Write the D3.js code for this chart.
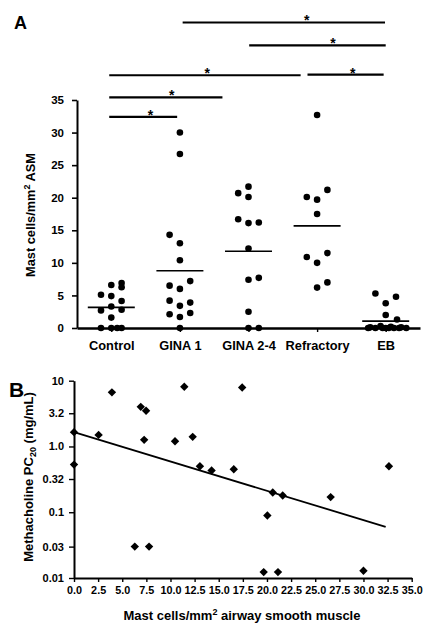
<!DOCTYPE html>
<html><head><meta charset="utf-8">
<script src="https://cdn.jsdelivr.net/npm/d3@7"></script>
<style>
html,body{margin:0;padding:0;background:#fff;}
svg text{font-family:"Liberation Sans",Arial,sans-serif;font-weight:bold;fill:#000;}
</style></head>
<body><svg id="c" width="438" height="627"></svg>
<script>
// ---------- Panel A data ----------
const categories = ["Control", "GINA 1", "GINA 2-4", "Refractory", "EB"];
const controlVals = [6.6, 6.9, 6.25, 5.1, 4.9, 4.15, 2.7, 3.3, 2.8, 1.6, 0, 0, 0, 0];
const controlLane = [0, 1, 1, -1, 0, 1, -1, 0, 1, 0, -1, 0, 0.57, 1];
const gina1Vals = [30, 26.7, 14.3, 13.0, 10.4, 7.2, 6.5, 6.0, 4.2, 3.9, 3.4, 2.1, 2.3, 1.7, 0];
const gina1Lane = [0, 0, -1, 0, 0, 1, -1, 0, -1, 1, 0, -1, 1, 0, 0];
const gina24Vals = [21.7, 20.7, 20.1, 16.7, 16.1, 16.2, 12.2, 7.4, 7.7, 2.5, 0, 0];
const gina24Lane = [0, -1, 0, -1, 0, 1, 0, 0, 1, 0, 0, 1];
const refractoryVals = [32.7, 21.2, 20.1, 19.7, 17.5, 10.9, 11.5, 10.0, 6.2, 7.0];
const refractoryLane = [0, 1, -1, 0, 0, -1, 1, 0, 0, 1];
const ebVals = [5.3, 4.8, 3.8, 2.0, 1.3, 0.3, 0.2, 0.1, 0.1, 0, 0, 0, 0, 0, 0, 0, 0];
const ebLane = [-1, 1, 0, 0, 1.1, -0.5, 0.5, 1.5, -1.5, 0, -1.7, -1, -0.3, 0.3, 0.8, 1.3, 2.0];
const yTicksA = [0, 5, 10, 15, 20, 25, 30, 35];
// significance comparisons: from/to/star in category-index units, level in y units
const sigFrom  = [1.04, 2.01, -0.03, 2.86, -0.03, -0.03];
const sigTo    = [3.99, 4.0, 2.76, 3.97, 1.62, 0.96];
const sigStar  = [2.85, 3.23, 1.40, 3.52, 0.88, 0.57];
const sigLevel = [46.9, 43.4, 38.8, 38.9, 35.4, 32.4];

// ---------- Panel B data ----------
const pcX = [0.0, 0.0, 2.55, 3.93, 6.92, 7.47, 7.27, 6.3, 7.78, 10.47, 11.43, 12.3, 13.05, 14.26, 16.56, 17.43, 20.6, 21.63, 20.04, 19.66, 21.14, 26.6, 30.0, 32.64];
const pcY = [1.65, 0.53, 1.5, 6.65, 4.0, 3.5, 1.26, 0.03, 0.03, 1.2, 8.1, 1.4, 0.50, 0.43, 0.45, 7.9, 0.2, 0.18, 0.089, 0.0123, 0.0123, 0.17, 0.0129, 0.50];
const fitX = [0, 32.3];
const fitY = [1.65, 0.06];
const xTicksB = [0, 2.5, 5, 7.5, 10, 12.5, 15, 17.5, 20, 22.5, 25, 27.5, 30, 32.5, 35];
const yTicksB = [10, 3.2, 1.0, 0.32, 0.1, 0.03, 0.01];
const yTickLabelsB = ["10", "3.2", "1.0", "0.32", "0.1", "0.03", "0.01"];

const svg = d3.select("#c");
svg.append("rect").attr("width", 438).attr("height", 627).attr("fill", "#fff");

// ================= Panel A =================
const groups = [
  {vals: controlVals, lane: controlLane},
  {vals: gina1Vals, lane: gina1Lane},
  {vals: gina24Vals, lane: gina24Lane},
  {vals: refractoryVals, lane: refractoryLane},
  {vals: ebVals, lane: ebLane}
];
const xA = d3.scaleLinear().domain([-0.5, 4.5]).range([77, 420]);
const yA = d3.scaleLinear().domain([0, 35]).range([328, 100]);
const laneW = 10.3;

const gA = svg.append("g");
// y axis
const yAxisA = d3.axisLeft(yA).tickValues(yTicksA).tickSize(5).tickSizeOuter(0).tickPadding(8);
const gy = gA.append("g").attr("transform", "translate(77,0)").call(yAxisA);
gy.select(".domain").attr("stroke", "#000").attr("stroke-width", 2);
gy.selectAll(".tick line").attr("stroke", "#000").attr("stroke-width", 1.6);
gy.selectAll(".tick text").style("font-size", "11.5px").style("font-family", "Liberation Sans, Arial").style("font-weight", "bold");

// x axis
const xAxisA = d3.axisBottom(xA).tickValues(d3.range(categories.length)).tickFormat(i => categories[i])
  .tickSize(4).tickSizeOuter(0).tickPadding(9);
const gx = gA.append("g").attr("transform", "translate(0,328)").call(xAxisA);
gx.select(".domain").attr("stroke", "#000").attr("stroke-width", 2.4);
gx.selectAll(".tick line").attr("stroke", "#000").attr("stroke-width", 1.4);
gx.selectAll(".tick text").style("font-size", "12.8px").style("font-family", "Liberation Sans, Arial").style("font-weight", "bold");

// dots
groups.forEach((g, gi) => {
  gA.append("g").selectAll("circle").data(g.vals).join("circle")
    .attr("cx", (v, i) => xA(gi) + g.lane[i] * laneW)
    .attr("cy", v => yA(v))
    .attr("r", 3.3)
    .attr("fill", "#000");
  const m = d3.mean(g.vals);
  gA.append("line")
    .attr("x1", xA(gi) - 23.5).attr("x2", xA(gi) + 23.5)
    .attr("y1", yA(m)).attr("y2", yA(m))
    .attr("stroke", "#000").attr("stroke-width", 1.6);
});

// significance bars
sigFrom.forEach((f, i) => {
  gA.append("line")
    .attr("x1", xA(f)).attr("x2", xA(sigTo[i]))
    .attr("y1", yA(sigLevel[i])).attr("y2", yA(sigLevel[i]))
    .attr("stroke", "#000").attr("stroke-width", 2.2);
  gA.append("text")
    .attr("x", xA(sigStar[i])).attr("y", yA(sigLevel[i]) + 3)
    .attr("text-anchor", "middle")
    .style("font-size", "14px")
    .text("*");
});

// y title A
const tA = gA.append("text")
  .attr("transform", "translate(35,215) rotate(-90)")
  .attr("text-anchor", "middle")
  .style("font-size", "12.8px");
tA.append("tspan").text("Mast cells/mm");
tA.append("tspan").attr("dy", -5).style("font-size", "9px").text("2");
tA.append("tspan").attr("dy", 5).text(" ASM");

svg.append("text").attr("x", 14).attr("y", 29).style("font-size", "18px").text("A");

// ================= Panel B =================
const xB = d3.scaleLinear().domain([0, 35]).range([74, 411.7]);
const yB = d3.scaleLog().domain([0.01, 10]).range([578, 380.7]);
const gB = svg.append("g");

const xAxisB = d3.axisBottom(xB).tickValues(xTicksB).tickFormat(d3.format(".1f"))
  .tickSize(4).tickSizeOuter(0).tickPadding(4);
const gxb = gB.append("g").attr("transform", "translate(0,578)").call(xAxisB);
gxb.select(".domain").attr("stroke", "#000").attr("stroke-width", 2);
gxb.selectAll(".tick line").attr("stroke", "#000").attr("stroke-width", 1.4);
gxb.selectAll(".tick text").style("font-size", "10.8px").style("font-family", "Liberation Sans, Arial").style("font-weight", "bold");

const yAxisB = d3.axisLeft(yB).tickValues(yTicksB).tickFormat((d, i) => yTickLabelsB[i])
  .tickSize(5).tickSizeOuter(0).tickPadding(5);
const gyb = gB.append("g").attr("transform", "translate(74,0)").call(yAxisB);
gyb.select(".domain").attr("stroke", "#000").attr("stroke-width", 2);
gyb.selectAll(".tick line").attr("stroke", "#000").attr("stroke-width", 1.4);
gyb.selectAll(".tick text").style("font-size", "11px").style("font-family", "Liberation Sans, Arial").style("font-weight", "bold");

// regression line
gB.append("path")
  .attr("d", d3.line().x(d => xB(d[0])).y(d => yB(d[1]))(fitX.map((x, i) => [x, fitY[i]])))
  .attr("stroke", "#000").attr("stroke-width", 1.8).attr("fill", "none");

// diamonds
const dia = 4.2;
gB.append("g").selectAll("path").data(pcX.map((x, i) => [x, pcY[i]])).join("path")
  .attr("transform", d => `translate(${xB(d[0])},${yB(d[1])})`)
  .attr("d", `M0,${-dia}L${dia},0L0,${dia}L${-dia},0Z`)
  .attr("fill", "#000");

// titles
const tBx = gB.append("text").attr("x", 242).attr("y", 620).attr("text-anchor", "middle").style("font-size", "13px");
tBx.append("tspan").text("Mast cells/mm");
tBx.append("tspan").attr("dy", -5).style("font-size", "9px").text("2");
tBx.append("tspan").attr("dy", 5).text(" airway smooth muscle");

const tBy = gB.append("text").attr("transform", "translate(33,477) rotate(-90)").attr("text-anchor", "middle").style("font-size", "13px");
tBy.append("tspan").text("Methacholine PC");
tBy.append("tspan").attr("dy", 3).style("font-size", "9px").text("20");
tBy.append("tspan").attr("dy", -3).text(" (mg/mL)");

svg.append("text").attr("x", 9).attr("y", 397).style("font-size", "21px").text("B");
</script></body></html>
